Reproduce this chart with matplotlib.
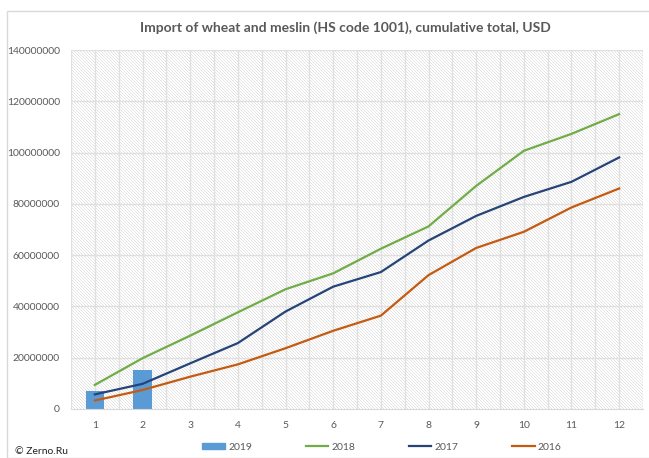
import matplotlib
matplotlib.use('Agg')
import numpy as np
import matplotlib.pyplot as plt
from matplotlib.patches import Rectangle
from matplotlib.lines import Line2D

plt.rcParams['font.family'] = ['Lato', 'DejaVu Sans']

# Data
months = list(range(1, 13))
imports_2019 = [7.0e6, 15.2e6]
imports_2018 = [9.4e6, 19.8e6, 28.6e6, 37.7e6, 46.7e6, 52.9e6,
                62.5e6, 71.2e6, 87.0e6, 100.7e6, 107.3e6, 115.0e6]
imports_2017 = [5.7e6, 9.8e6, 17.8e6, 25.7e6, 38.0e6, 47.7e6,
                53.4e6, 65.7e6, 75.3e6, 82.7e6, 88.6e6, 98.1e6]
imports_2016 = [3.3e6, 7.4e6, 12.6e6, 17.4e6, 23.7e6, 30.5e6,
                36.4e6, 52.2e6, 62.8e6, 69.1e6, 78.6e6, 86.0e6]
y_ticks = list(range(0, 140000001, 20000000))

grey = '#595959'

fig = plt.figure(figsize=(6.49, 4.58), dpi=100)

# chart area border
fig.patches.append(Rectangle((7 / 649, 0), 1.0, 1 - 11 / 458, transform=fig.transFigure,
                             facecolor='none', edgecolor='#d9d9d9', linewidth=1))

# fine diagonal hatch behind the plot area, placed pixel for pixel
rows, cols = np.mgrid[0:359, 0:572]
texture = np.where((cols + rows) % 3 == 0, 0.89, 1.0)
fig.figimage(texture, xo=71, yo=49, cmap='gray', vmin=0, vmax=1, origin='lower', zorder=-1)

ax = fig.add_axes([71 / 649, 49 / 458, 572 / 649, 359 / 458])
ax.set_facecolor('none')
ax.set_xlim(0.5, 12.5)
ax.set_ylim(0, 140000000)

for x in [i / 2 for i in range(1, 26)]:
    ax.axvline(x, color='#e0e0e0', linewidth=1, zorder=1)
for y in y_ticks[1:]:
    ax.axhline(y, color='#e0e0e0', linewidth=1, zorder=1)

ax.bar(months[:len(imports_2019)], imports_2019, width=0.39, color='#5B9BD5', zorder=2)
ax.plot(months, imports_2018, color='#70AD47', linewidth=1.6, zorder=3)
ax.plot(months, imports_2017, color='#264478', linewidth=1.6, zorder=3)
ax.plot(months, imports_2016, color='#C55A11', linewidth=1.6, zorder=3)

for s in ['top', 'right', 'left']:
    ax.spines[s].set_visible(False)
ax.spines['bottom'].set_color('#d9d9d9')
ax.spines['bottom'].set_zorder(4)

ax.set_xticks(months)
ax.set_yticks(y_ticks)
ax.set_yticklabels([str(v) for v in y_ticks])
ax.tick_params(length=0, labelsize=7.5, labelcolor=grey)
ax.tick_params(axis='x', pad=9)
ax.tick_params(axis='y', pad=8)

fig.text(345 / 649, 1 - 28 / 458, 'Import of wheat and meslin (HS code 1001), cumulative total, USD',
         ha='center', va='center', fontsize=10, fontweight='bold', color=grey)

handles = [Rectangle((0, 0), 1, 1, color='#5B9BD5'),
           Line2D([], [], color='#70AD47', linewidth=1.6),
           Line2D([], [], color='#264478', linewidth=1.6),
           Line2D([], [], color='#C55A11', linewidth=1.6)]
fig.legend(handles, ['2019', '2018', '2017', '2016'], loc='center',
           bbox_to_anchor=(382 / 649, 1 - 447 / 458), ncol=4, frameon=False,
           fontsize=7.5, labelcolor=grey, handlelength=2.2, handleheight=0.5,
           handletextpad=0.3, columnspacing=5.1)

fig.text(15 / 649, 1 - 451 / 458, '\u00a9 Zerno.Ru', ha='left', va='center',
         fontsize=7.5, color='#222222')

fig.savefig('out.png', dpi=100)
